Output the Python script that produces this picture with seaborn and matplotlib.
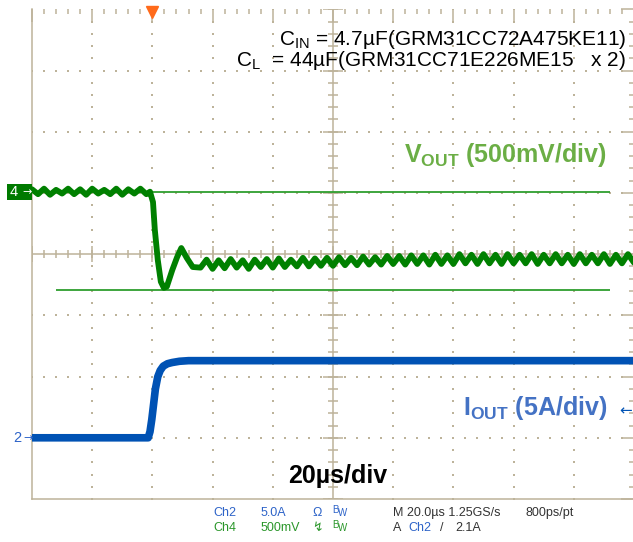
import numpy as np
import matplotlib
matplotlib.use("Agg")
import matplotlib.pyplot as plt
from matplotlib.ticker import MultipleLocator, NullFormatter
from matplotlib.patches import Rectangle
from matplotlib.transforms import blended_transform_factory
import seaborn as sns

# %% - data, in screen divisions (x: 0..10 div, y: -4..4 div around centre)
vout_t = [
    0.0, 0.1, 0.2, 0.3, 0.4, 0.5, 0.6, 0.7, 0.8, 0.9,
    1.0, 1.1, 1.2, 1.3, 1.4, 1.5, 1.6, 1.7, 1.8, 1.9,
    1.96, 2.01, 2.04, 2.09, 2.14, 2.19, 2.24, 2.33, 2.41, 2.48, 2.57, 2.67,
    2.8, 2.9, 3.0, 3.1, 3.2, 3.3, 3.4, 3.5, 3.6, 3.7,
    3.8, 3.9, 4.0, 4.1, 4.2, 4.3, 4.4, 4.5, 4.6, 4.7,
    4.8, 4.9, 5.0, 5.1, 5.2, 5.3, 5.4, 5.5, 5.6, 5.7,
    5.8, 5.9, 6.0, 6.1, 6.2, 6.3, 6.4, 6.5, 6.6, 6.7,
    6.8, 6.9, 7.0, 7.1, 7.2, 7.3, 7.4, 7.5, 7.6, 7.7,
    7.8, 7.9, 8.0, 8.1, 8.2, 8.3, 8.4, 8.5, 8.6, 8.7,
    8.8, 8.9, 9.0, 9.1, 9.2, 9.3, 9.4, 9.5, 9.6, 9.7,
    9.8, 9.9, 10.0,
]
vout_v = [
    1.06, 0.98, 1.07, 0.97, 1.05, 0.99, 1.07, 0.98, 1.06, 0.97,
    1.07, 0.99, 1.05, 0.98, 1.07, 0.97, 1.06, 0.99, 1.07, 0.98,
    1.02, 0.85, 0.40, -0.10, -0.45, -0.55, -0.53, -0.26, -0.05, 0.10, -0.06, -0.21,
    -0.22, -0.09, -0.24, -0.10, -0.23, -0.08, -0.22, -0.10, -0.24, -0.09,
    -0.21, -0.08, -0.22, -0.07, -0.21, -0.09, -0.20, -0.06, -0.20, -0.07,
    -0.19, -0.06, -0.19, -0.05, -0.18, -0.06, -0.18, -0.04, -0.17, -0.05,
    -0.17, -0.03, -0.16, -0.03, -0.17, -0.02, -0.16, -0.02, -0.17, -0.01,
    -0.16, -0.02, -0.16, 0.00, -0.15, -0.01, -0.16, 0.00, -0.15, -0.01,
    -0.16, 0.00, -0.15, -0.01, -0.15, 0.00, -0.16, -0.01, -0.15, 0.00,
    -0.15, -0.01, -0.16, 0.00, -0.15, -0.01, -0.15, 0.00, -0.16, -0.01,
    -0.15, 0.00, -0.14,
]
iout_t = [0.0, 1.93, 1.96, 1.99, 2.02, 2.05, 2.09, 2.13, 2.18, 2.25, 2.33, 2.45, 2.6, 10.0]
iout_v = [-3.0, -3.0, -2.9, -2.7, -2.45, -2.2, -2.0, -1.9, -1.83, -1.79, -1.77, -1.75, -1.74, -1.74]

cursor_levels = [1.02, -0.585]
cursor_span = [0.4, 9.6]
ch4_level = 1.02
ch2_level = -3.0
trigger_t = 2.0

W, H = 633, 542
tan = "#BDB39A"
green_dark = "#008000"
blue_trace = "#0052B4"
blue_text = "#2D63C8"
green_text = "#2A962A"


def fx(x):
    return x / W


def fy(y):
    return 1 - y / H


# %% - style
sns.set_theme(style="white")
plt.rcParams["font.family"] = ["Liberation Sans", "DejaVu Sans"]
plt.rcParams["mathtext.fontset"] = "custom"
plt.rcParams["mathtext.rm"] = "Liberation Sans"
plt.rcParams["mathtext.bf"] = "Liberation Sans:bold"

fig = plt.figure(figsize=(6.33, 5.42), dpi=100)
ax = fig.add_axes([fx(32), fy(499), 602 / W, (499 - 9.3) / H])
ax.set_xlim(0, 10)
ax.set_ylim(-4, 4)
ax.set_facecolor("white")

# okvir i oznake
for side in ["top", "right"]:
    ax.spines[side].set_visible(False)
for side in ["left", "bottom"]:
    ax.spines[side].set_color(tan)
    ax.spines[side].set_linewidth(1.1)

for axis in [ax.xaxis, ax.yaxis]:
    axis.set_major_locator(MultipleLocator(1))
    axis.set_minor_locator(MultipleLocator(0.2))
    axis.set_major_formatter(NullFormatter())
    axis.set_minor_formatter(NullFormatter())
ax.tick_params(which="both", direction="in", top=True, right=True, color=tan, width=1.1)
ax.tick_params(which="major", length=9.4)
ax.tick_params(which="minor", length=3.6)

# točkasta mreža
gx = np.round(np.arange(0, 10.01, 0.2), 2)
gy = np.round(np.arange(-4, 4.01, 0.2), 2)
for xv in range(1, 10):
    if xv != 5:
        ax.scatter([xv] * len(gy), gy, s=2.2, marker="s", color=tan, linewidths=0, zorder=1)
for yv in range(-3, 4):
    if yv != 0:
        ax.scatter(gx, [yv] * len(gx), s=2.2, marker="s", color=tan, linewidths=0, zorder=1)

# središnji križ
ax.axhline(0, color=tan, lw=1.1, zorder=1)
ax.axvline(5, color=tan, lw=1.1, zorder=1)
ax.vlines(gx, -0.066, 0.066, color=tan, lw=1.1, zorder=1)
ax.vlines(range(0, 11), -0.13, 0.13, color=tan, lw=1.1, zorder=1)
ax.hlines(gy, 5 - 0.09, 5 + 0.09, color=tan, lw=1.1, zorder=1)
ax.hlines(range(-4, 5), 5 - 0.16, 5 + 0.16, color=tan, lw=1.1, zorder=1)

# kursori
ax.hlines(cursor_levels, cursor_span[0], cursor_span[1], color="#2E9E2E", lw=1.3, zorder=2)

# tragovi
sns.lineplot(x=vout_t, y=vout_v, ax=ax, color=green_dark, lw=4.2, estimator=None, sort=False, zorder=3)
sns.lineplot(x=iout_t, y=iout_v, ax=ax, color=blue_trace, lw=5.5, estimator=None, sort=False, zorder=3)

# okidač
ax.plot([trigger_t], [3.95], marker="v", ms=8, color="#FF6A1A", clip_on=False, zorder=5)

# oznake kanala
trans = blended_transform_factory(fig.transFigure, ax.transData)
fig.add_artist(Rectangle((fx(7), ch4_level - 0.13), 25 / W, 0.26, transform=trans,
                         facecolor="#007A00", edgecolor="none"))
fig.text(fx(14), ch4_level, "4", transform=trans, color="white", fontsize=10.5, ha="center", va="center")
fig.text(fx(27), ch4_level, "→", transform=trans, color="white", fontsize=8,
         ha="center", va="center", family=["DejaVu Sans"])
fig.text(fx(17), ch2_level, "2", transform=trans, color=blue_text, fontsize=10.5, ha="center", va="center")
fig.text(fx(28), ch2_level, "→", transform=trans, color=blue_text, fontsize=8,
         ha="center", va="center", family=["DejaVu Sans"])

# natpisi
fig.text(fx(626), fy(45), r"C$_{\rm IN}$ = 4.7µF(GRM31CC72A475KE11)",
         ha="right", va="baseline", fontsize=15, color="black")
fig.text(fx(626), fy(66), r"C$_{\rm L}$  = 44µF(GRM31CC71E226ME15   x 2)",
         ha="right", va="baseline", fontsize=15, color="black")
fig.text(fx(607), fy(162), r"V$_{\mathbf{OUT}}$ (500mV/div)", ha="right", va="baseline",
         fontsize=18, fontweight="bold", color="#6BAE45")
fig.text(fx(607), fy(415), r"I$_{\mathbf{OUT}}$ (5A/div)", ha="right", va="baseline",
         fontsize=18, fontweight="bold", color="#4472C4")
fig.text(fx(626), fy(411), "←", ha="center", va="center", fontsize=11, color=blue_trace,
         family=["DejaVu Sans"])
fig.text(fx(288), fy(483), "20µs/div", ha="left", va="baseline", fontsize=18,
         fontweight="bold", color="black")

# statusna traka
status = [
    (213, 516, "Ch2", blue_text), (261, 516, "5.0A", blue_text), (312, 516, "Ω", blue_text),
    (393, 516, "M 20.0µs 1.25GS/s", "#333333"), (525, 516, "800ps/pt", "#333333"),
    (213, 531, "Ch4", green_text), (261, 531, "500mV", green_text), (312, 531, "↯", green_text),
    (393, 531, "A", "#333333"), (408, 531, "Ch2", blue_text), (440, 531, "/", "#333333"),
    (455, 531, "2.1A", "#333333"),
]
for x, y, s, c in status:
    fig.text(fx(x), fy(y), s, ha="left", va="baseline", fontsize=9, color=c,
             family=["Liberation Sans", "DejaVu Sans"])
for y, c in [(516, blue_text), (531, green_text)]:
    fig.text(fx(332), fy(y - 3), "B", ha="left", va="baseline", fontsize=7, color=c)
    fig.text(fx(338), fy(y), "W", ha="left", va="baseline", fontsize=7, color=c)

fig.savefig("out.png", dpi=100)
